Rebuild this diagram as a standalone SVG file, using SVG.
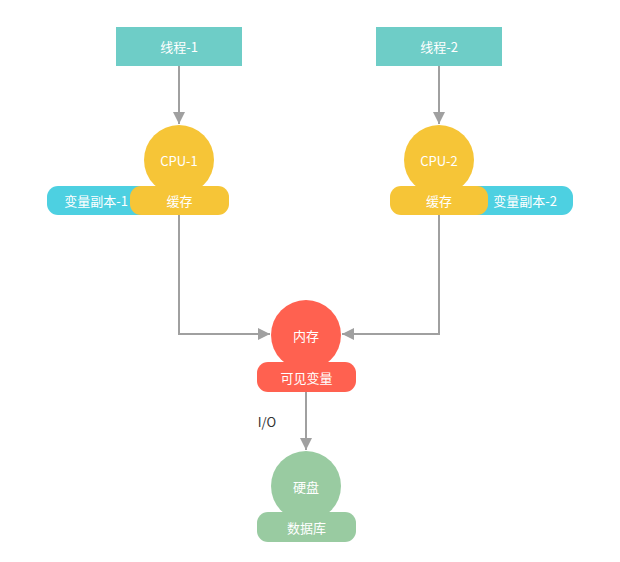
<svg xmlns="http://www.w3.org/2000/svg" width="620" height="562" viewBox="0 0 620 562">
<defs>
<style>
text{font-family:"Microsoft YaHei","Noto Sans CJK SC","Liberation Sans",sans-serif;font-size:13px;fill:#fff;text-anchor:middle;dominant-baseline:central}
.thread{fill:#6ecdc7}
.cpu{fill:#f6c537}
.copy{fill:#4dd0e1}
.mem{fill:#ff6150}
.disk{fill:#99cba1}
.conn{fill:none;stroke:#a0a0a0;stroke-width:2}
.lbl{fill:#333}
</style>
<marker id="arr" viewBox="0 0 10 10" refX="10" refY="5" markerWidth="6" markerHeight="6" markerUnits="strokeWidth" orient="auto"><path d="M0,0 L10,5 L0,10 z" fill="#a0a0a0"/></marker>
</defs>
<rect width="620" height="562" fill="#fff"/>
<g id="connectors">
<path class="conn" d="M179,66 V124" marker-end="url(#arr)"/>
<path class="conn" d="M439,66 V124" marker-end="url(#arr)"/>
<path class="conn" d="M179,215 V334 H270" marker-end="url(#arr)"/>
<path class="conn" d="M439,215 V334 H342" marker-end="url(#arr)"/>
<path class="conn" d="M306,392 V450" marker-end="url(#arr)"/>
<text class="lbl" x="267" y="421">I/O</text>
</g>
<g id="thread1"><rect class="thread" x="116" y="27" width="126" height="39"/><text x="179" y="46.5">线程-1</text></g>
<g id="thread2"><rect class="thread" x="376" y="27" width="126" height="39"/><text x="439" y="46.5">线程-2</text></g>
<g id="copy1"><rect class="copy" x="47" y="186" width="140" height="29" rx="11"/><text x="96" y="200.5">变量副本-1</text></g>
<g id="cpu1"><circle class="cpu" cx="179" cy="160" r="35"/><text x="179" y="160">CPU-1</text><rect class="cpu" x="130" y="186" width="99" height="29" rx="11"/><text x="179.5" y="200.5">缓存</text></g>
<g id="copy2"><rect class="copy" x="432" y="186" width="141" height="29" rx="11"/><text x="525" y="200.5">变量副本-2</text></g>
<g id="cpu2"><circle class="cpu" cx="439" cy="160" r="35"/><text x="439" y="160">CPU-2</text><rect class="cpu" x="390" y="186" width="98" height="29" rx="11"/><text x="439" y="200.5">缓存</text></g>
<g id="memory"><circle class="mem" cx="306" cy="335" r="35"/><text x="306" y="335">内存</text><rect class="mem" x="257" y="362" width="99" height="30" rx="11"/><text x="306.5" y="377">可见变量</text></g>
<g id="disk"><circle class="disk" cx="306" cy="486" r="35"/><text x="306" y="486">硬盘</text><rect class="disk" x="257" y="512" width="99" height="30" rx="11"/><text x="306.5" y="527">数据库</text></g>
</svg>
